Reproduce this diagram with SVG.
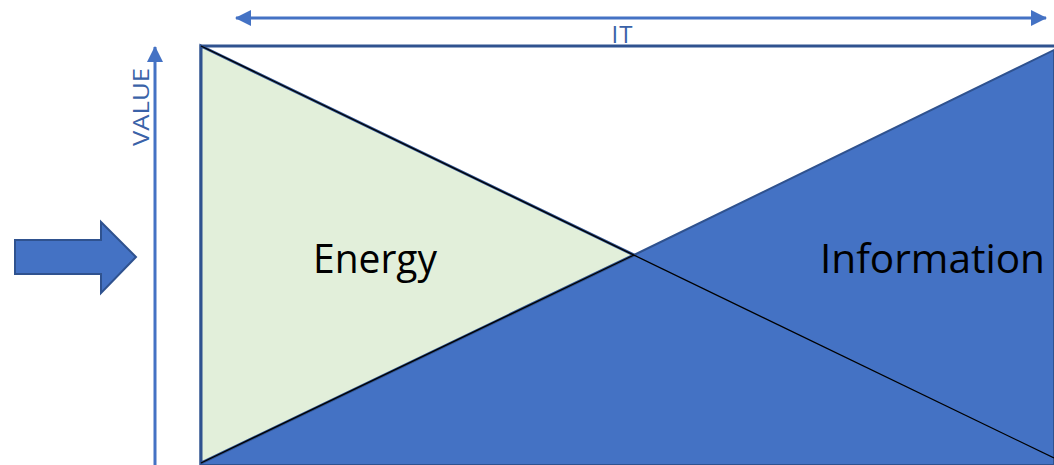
<svg xmlns="http://www.w3.org/2000/svg" width="1054" height="465" viewBox="0 0 1054 465">
<defs>
<style>
.lbl{font-family:"Open Sans","Liberation Sans",Arial,sans-serif;fill:#000}
.ax{font-family:"Open Sans","Liberation Sans",Arial,sans-serif;fill:#3A62A8}
.axis{stroke:#4472C4;stroke-width:3;fill:none}
</style>
<marker id="ah" viewBox="0 0 16 16" refX="15" refY="8" markerWidth="16" markerHeight="16" markerUnits="userSpaceOnUse" orient="auto-start-reverse">
<path d="M0,0 L16,8 L0,16 Z" fill="#4472C4"/>
</marker>
</defs>
<rect x="0" y="0" width="1054" height="465" fill="#fff"/>
<g id="frame">
<rect x="201" y="46" width="870" height="440" fill="#fff" stroke="#2F528F" stroke-width="3"/>
</g>
<g id="information">
<polygon points="201,463 634,255 1054,50 1054,465 201,465" fill="#4472C4" stroke="#2F528F" stroke-width="2"/>
<text class="lbl" x="820" y="273" font-size="40" textLength="225" lengthAdjust="spacingAndGlyphs">Information</text>
</g>
<g id="energy">
<polygon points="201,46 634,255 201,463" fill="#E2EFDA" stroke="#2F528F" stroke-width="3"/>
<text class="lbl" x="313" y="273" font-size="40" textLength="124" lengthAdjust="spacingAndGlyphs">Energy</text>
</g>
<g id="connectors">
<line x1="201" y1="46" x2="1054" y2="458" stroke="#000" stroke-width="1.3"/>
<line x1="201" y1="463" x2="634" y2="255" stroke="#000" stroke-width="1.3"/>
<line class="axis" x1="236" y1="18" x2="1046" y2="18" marker-start="url(#ah)" marker-end="url(#ah)"/>
<line class="axis" x1="155" y1="470" x2="155" y2="47" marker-end="url(#ah)"/>
</g>
<g id="it-label">
<text class="ax" x="622" y="43" font-size="24" text-anchor="middle" textLength="21" lengthAdjust="spacing">IT</text>
</g>
<g id="value-label">
<text class="ax" transform="translate(149,146) rotate(-90)" x="0" y="0" font-size="22" textLength="78" lengthAdjust="spacingAndGlyphs">VALUE</text>
</g>
<g id="block-arrow">
<polygon points="15,240 101,240 101,222 136,257 101,293 101,274 15,274" fill="#4472C4" stroke="#2F528F" stroke-width="2"/>
</g>
</svg>
